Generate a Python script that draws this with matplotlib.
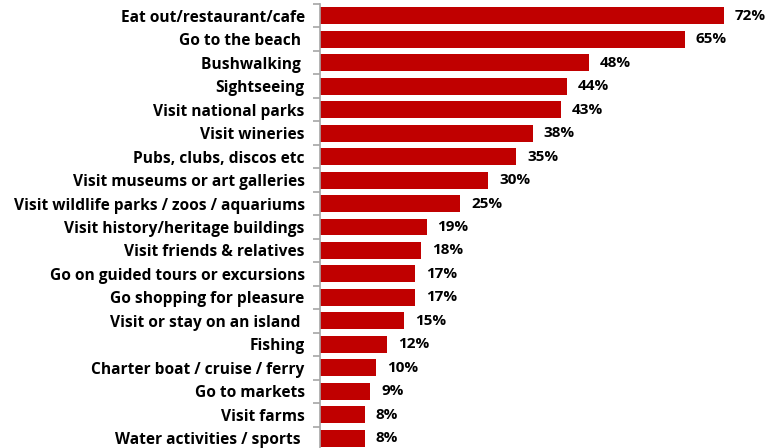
import matplotlib.pyplot as plt
from matplotlib.ticker import FixedLocator

# Activities and share of visitors (%)
activities = [
    'Eat out/restaurant/cafe', 'Go to the beach ', 'Bushwalking ', 'Sightseeing',
    'Visit national parks', 'Visit wineries', 'Pubs, clubs, discos etc',
    'Visit museums or art galleries', 'Visit wildlife parks / zoos / aquariums',
    'Visit history/heritage buildings', 'Visit friends & relatives',
    'Go on guided tours or excursions', 'Go shopping for pleasure',
    'Visit or stay on an island ', 'Fishing', 'Charter boat / cruise / ferry',
    'Go to markets', 'Visit farms', 'Water activities / sports ',
]
shares = [72, 65, 48, 44, 43, 38, 35, 30, 25, 19, 18, 17, 17, 15, 12, 10, 9, 8, 8]

plt.rcParams['font.family'] = ['Open Sans', 'DejaVu Sans']

fig = plt.figure(figsize=(7.71, 4.48), dpi=100)
# axes runs a little past the bottom edge, like the cropped original
ax = fig.add_axes([320 / 771, -2 / 448, 446 / 771, 446 / 448])

y = list(range(len(activities)))
ax.barh(y, shares, height=0.72, color='#C00000')
ax.set_ylim(len(activities) - 0.5, -0.5)
ax.set_xlim(0, 79.5)

for yi, v in zip(y, shares):
    ax.text(v + 1.9, yi, f'{v}%', va='center', ha='left',
            fontsize=11, fontweight='bold', color='#000000')

ax.set_yticks(y)
ax.set_yticklabels(activities, fontsize=11.2, fontweight='bold')
ax.tick_params(axis='y', which='major', length=0, pad=11)
ax.yaxis.set_minor_locator(FixedLocator([i - 0.5 for i in range(len(activities) + 1)]))
ax.tick_params(axis='y', which='minor', length=5, color='#A6A6A6', width=1.2)

ax.set_xticks([])
for side in ['top', 'right', 'bottom']:
    ax.spines[side].set_visible(False)
ax.spines['left'].set_color('#A6A6A6')
ax.spines['left'].set_linewidth(1.2)

fig.savefig('out.png', dpi=100)
